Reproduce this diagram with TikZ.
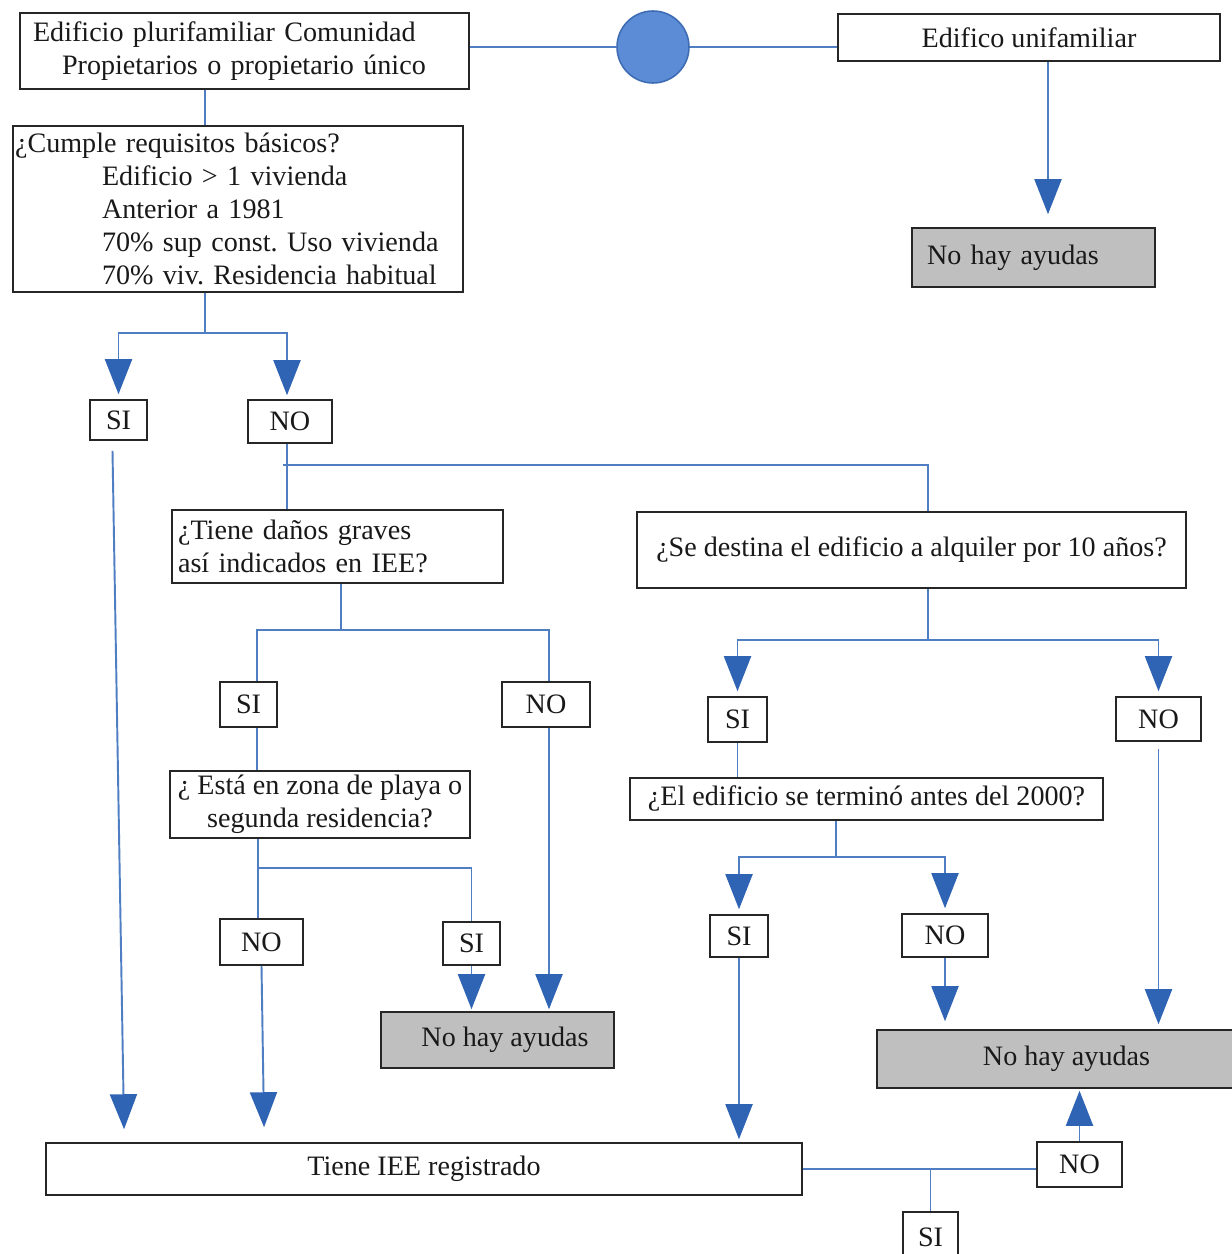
\documentclass[tikz,border=0pt]{standalone}
\usepackage{fontspec}
\setmainfont{Liberation Serif}
\usetikzlibrary{arrows.meta,calc}
\definecolor{lineblue}{HTML}{4F7FC2}
\definecolor{tipblue}{HTML}{2F63B3}
\definecolor{circfill}{HTML}{5D8CD6}
\definecolor{circdraw}{HTML}{3E6CB4}
\frenchspacing
\tikzset{
  bx/.style={draw=black!85, line width=0.9pt, fill=white, inner sep=0pt, text=black!90,
    font=\fontsize{16}{18.8}\selectfont\frenchspacing},
  gbx/.style={bx, fill=gray!50},
  ln/.style={draw=lineblue, line width=1.1pt},
  arr/.style={ln, -{Triangle[width=0.54cm,length=0.7cm,fill=tipblue,color=tipblue]}},
}
\begin{document}
\begin{tikzpicture}[x=0.02cm,y=-0.02cm]
\useasboundingbox (0,0) rectangle (1231,1254);
\fill[white] (0,0) rectangle (1231,1254);

% nodes
\node[bx, minimum width=8.98cm, minimum height=1.52cm, inner xsep=0.26cm, text width=8.46cm, align=left] (A) at (244.5,51)
  {Edificio plurifamiliar Comunidad\\\hspace*{0.58cm}Propietarios o propietario único};
\node[circle, draw=circdraw, fill=circfill, line width=0.9pt, minimum size=1.44cm, inner sep=0pt] (circ) at (653,47) {};
\node[bx, minimum width=7.64cm, minimum height=0.94cm] (B) at (1029,37.5) {Edifico unifamiliar};
\node[gbx, minimum width=4.86cm, minimum height=1.18cm, inner xsep=0.3cm, text width=4.26cm, align=left] (C1) at (1033.5,257.5) {No hay ayudas};
\node[bx, minimum width=9.0cm, minimum height=3.32cm, inner xsep=0.04cm, text width=8.92cm, align=left] (D) at (238,209)
  {¿Cumple requisitos básicos?\\
   \hspace*{1.74cm}Edificio > 1 vivienda\\
   \hspace*{1.74cm}Anterior a 1981\\
   \hspace*{1.74cm}70\% sup const. Uso vivienda\\
   \hspace*{1.74cm}70\% viv. Residencia habitual};
\node[bx, minimum width=1.14cm, minimum height=0.8cm] (SI1) at (118.5,420) {SI};
\node[bx, minimum width=1.68cm, minimum height=0.86cm] (NO1) at (290,421.5) {NO};
\node[bx, minimum width=6.62cm, minimum height=1.46cm, inner xsep=0.12cm, text width=6.38cm, align=left] (E) at (337.5,546.5)
  {¿Tiene daños graves\\así indicados en IEE?};
\node[bx, minimum width=10.98cm, minimum height=1.52cm] (F) at (911.5,550) {¿Se destina el edificio a alquiler por 10 años?};
\node[bx, minimum width=1.14cm, minimum height=0.9cm] (SI2) at (248.5,704.5) {SI};
\node[bx, minimum width=1.76cm, minimum height=0.9cm] (NO2) at (546,704.5) {NO};
\node[bx, minimum width=6.0cm, minimum height=1.34cm, align=center] (G) at (320,804.5)
  {¿ Está en zona de playa o\\segunda residencia?};
\node[bx, minimum width=1.18cm, minimum height=0.9cm] (SI3) at (737.5,719.5) {SI};
\node[bx, minimum width=1.7cm, minimum height=0.88cm] (NO3) at (1158.5,719) {NO};
\node[bx, minimum width=9.46cm, minimum height=0.84cm] (H) at (866.5,799) {¿El edificio se terminó antes del 2000?};
\node[bx, minimum width=1.16cm, minimum height=0.84cm] (SI4) at (739,936) {SI};
\node[bx, minimum width=1.72cm, minimum height=0.86cm] (NO4) at (945,935.5) {NO};
\node[bx, minimum width=1.14cm, minimum height=0.86cm] (SI5) at (471.5,943.5) {SI};
\node[bx, minimum width=1.66cm, minimum height=0.92cm] (NO5) at (261.5,942) {NO};
\node[gbx, minimum width=4.66cm, minimum height=1.12cm] (C2) at (497.5,1040) {\hspace*{0.3cm}No hay ayudas};
\node[gbx, minimum width=7.58cm, minimum height=1.16cm] (C3) at (1066.5,1059) {No hay ayudas};
\node[bx, minimum width=15.12cm, minimum height=1.04cm] (IEE) at (424,1169) {Tiene IEE registrado};
\node[bx, minimum width=1.7cm, minimum height=0.9cm] (NO6) at (1079.5,1164.5) {NO};
\node[bx, minimum width=1.1cm, minimum height=1.0cm] (SI6) at (930.5,1237) {SI};

% helper coordinates
\coordinate (j1) at (205,333);
\coordinate (xU) at (1048,0);
\coordinate (x287) at (287,0);
\coordinate (j2) at (283,465);
\coordinate (x928) at (928,0);
\coordinate (j3) at (341,630);
\coordinate (x257) at (257,0);
\coordinate (x549) at (549,0);
\coordinate (j4) at (258,868);
\coordinate (j5) at (928,640);
\coordinate (j6) at (836,857);

% connectors
\draw[ln] (A.east |- circ) -- (circ.west);
\draw[ln] (circ.east) -- (circ.east -| B.west);
\draw[arr, shorten >=0.26cm] (B.south -| xU) -- (C1.north -| xU);

\draw[ln] (A.south -| j1) -- (D.north -| j1);
\draw[ln] (D.south -| j1) -- (j1);
\draw[arr, shorten >=0.1cm] (j1) -| (SI1.north);
\draw[arr, shorten >=0.08cm] (j1) -| (NO1.north -| x287);
\draw[arr, shorten >=0.26cm] ($(SI1.south)+(-6,10)$) -- ($(IEE.north west)+(79,0)$);

\draw[ln] (NO1.south -| x287) -- (E.north -| x287);
\draw[ln] (j2) -| (F.north -| x928);

\draw[ln] (E.south -| j3) -- (j3);
\draw[ln] (SI2.north -| x257) |- (j3) -| (NO2.north -| x549);
\draw[ln] (SI2.south -| x257) -- (G.north -| x257);
\draw[ln] (G.south -| j4) -- (NO5.north -| j4);
\draw[ln] (j4) -| (SI5.north);
\draw[arr, shorten >=0.04cm] (SI5.south) -- (C2.north -| SI5.south);
\draw[arr, shorten >=0.04cm] (NO2.south -| x549) -- (C2.north -| x549);
\draw[arr, shorten >=0.3cm] (NO5.south) -- ($(IEE.north west)+(219,0)$);

\draw[ln] (F.south -| j5) -- (j5);
\draw[arr, shorten >=0.1cm] (j5) -| (SI3.north);
\draw[arr, shorten >=0.1cm] (j5) -| (NO3.north);
\draw[ln] (SI3.south) -- (H.north -| SI3.south);
\draw[ln] (H.south -| j6) -- (j6);
\draw[arr, shorten >=0.1cm] (j6) -| (SI4.north);
\draw[arr, shorten >=0.1cm] (j6) -| (NO4.north);
\draw[arr, shorten >=0.06cm] (SI4.south) -- (IEE.north -| SI4.south);
\draw[arr, shorten >=0.16cm] (NO4.south) -- (C3.north -| NO4.south);
\draw[arr, shorten >=0.1cm] ($(NO3.south)+(0,7)$) -- (C3.north -| NO3.south);

\draw[ln] (IEE.east) -- (IEE.east -| NO6.west);
\draw[arr, shorten >=0.04cm] (NO6.north) -- (C3.south -| NO6.north);
\draw[ln] (IEE.east -| SI6.north) -- (SI6.north);
\end{tikzpicture}
\end{document}
